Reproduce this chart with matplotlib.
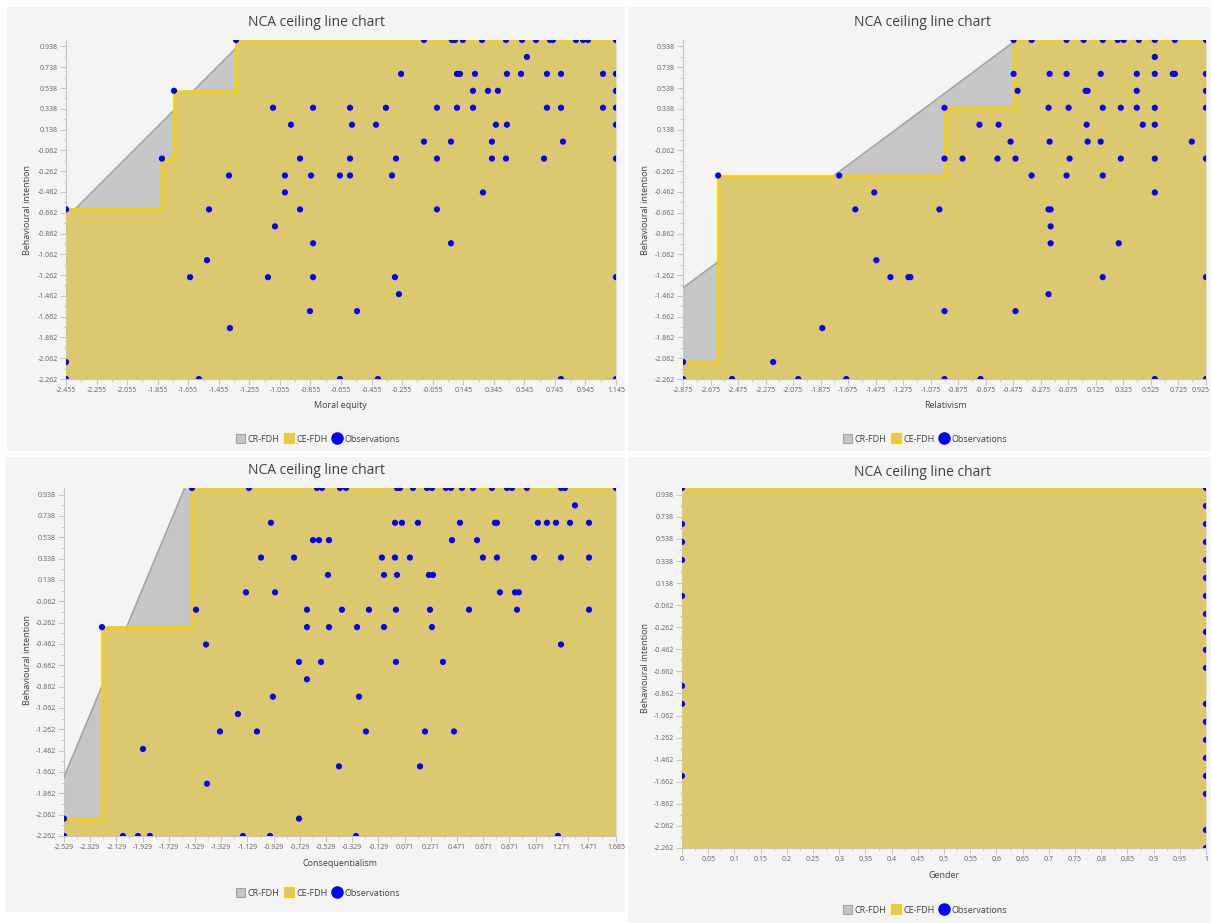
import numpy as np
import matplotlib
matplotlib.use("Agg")
import matplotlib.pyplot as plt
import matplotlib.transforms as mtransforms
from matplotlib.patches import Patch, Rectangle
from matplotlib.lines import Line2D

plt.rcParams['font.family'] = ['Open Sans', 'DejaVu Sans']

# ---------------- data ----------------
TITLE = "NCA ceiling line chart"
Y_LABEL = "Behavioural intention"
Y_RANGE = (-2.262, 1.0)
Y_TICKS = [-2.262, -2.062, -1.862, -1.662, -1.462, -1.262, -1.062, -0.862, -0.662,
           -0.462, -0.262, -0.062, 0.138, 0.338, 0.538, 0.738, 0.938]

# Moral equity vs Behavioural intention (x, y)
obs_moral = [
    (-1.342, 1.0), (-0.112, 1.0), (0.071, 1.0), (0.091, 1.0), (0.143, 1.0), (0.268, 1.0),
    (0.425, 1.0), (0.530, 1.0), (0.621, 1.0), (0.713, 1.0), (0.732, 1.0), (0.883, 1.0),
    (0.929, 1.0), (0.961, 1.0), (1.145, 1.0),
    (0.562, 0.837),
    (-0.262, 0.674), (0.104, 0.674), (0.124, 0.674), (0.222, 0.674), (0.431, 0.674),
    (0.523, 0.674), (0.693, 0.674), (0.785, 0.674), (1.060, 0.674), (1.145, 0.674),
    (-1.748, 0.511), (0.209, 0.511), (0.307, 0.511), (0.372, 0.511), (1.145, 0.511),
    (-1.100, 0.348), (-0.838, 0.348), (-0.596, 0.348), (-0.361, 0.348), (-0.027, 0.348),
    (0.104, 0.348), (0.209, 0.348), (0.693, 0.348), (0.785, 0.348), (1.060, 0.348), (1.145, 0.348),
    (-0.982, 0.185), (-0.583, 0.185), (-0.426, 0.185), (0.359, 0.185), (0.431, 0.185), (1.145, 0.185),
    (-0.112, 0.022), (0.065, 0.022), (0.333, 0.022), (0.798, 0.022),
    (-1.827, -0.141), (-0.923, -0.141), (-0.596, -0.141), (-0.295, -0.141), (-0.027, -0.141),
    (0.333, -0.141), (0.425, -0.141), (0.674, -0.141), (1.145, -0.141),
    (-1.388, -0.304), (-1.022, -0.304), (-0.851, -0.304), (-0.662, -0.304), (-0.596, -0.304), (-0.321, -0.304),
    (-1.022, -0.467), (0.274, -0.467),
    (-2.455, -0.630), (-1.519, -0.630), (-0.923, -0.630), (-0.027, -0.630),
    (-1.087, -0.793),
    (-0.838, -0.956), (0.065, -0.956),
    (-1.532, -1.119),
    (-1.643, -1.282), (-1.133, -1.282), (-0.838, -1.282), (-0.302, -1.282), (1.145, -1.282),
    (-0.276, -1.446),
    (-0.858, -1.609), (-0.550, -1.609),
    (-1.382, -1.772),
    (-2.455, -2.099),
    (-2.455, -2.262), (-1.585, -2.262), (-0.662, -2.262), (-0.413, -2.262), (0.785, -2.262), (1.145, -2.262),
]
moral_ticks = [-2.455, -2.255, -2.055, -1.855, -1.655, -1.455, -1.255, -1.055, -0.855, -0.655,
               -0.455, -0.255, -0.055, 0.145, 0.345, 0.545, 0.745, 0.945, 1.145]

# Relativism vs Behavioural intention
obs_relativism = [
    (-0.473, 1.0), (-0.342, 1.0), (-0.088, 1.0), (0.036, 1.0), (0.175, 1.0), (0.284, 1.0),
    (0.327, 1.0), (0.437, 1.0), (0.553, 1.0), (0.699, 1.0), (0.925, 1.0),
    (0.553, 0.837),
    (-0.473, 0.674), (-0.211, 0.674), (-0.088, 0.674), (0.160, 0.674), (0.422, 0.674),
    (0.553, 0.674), (0.684, 0.674), (0.699, 0.674), (0.925, 0.674),
    (-0.444, 0.511), (0.051, 0.511), (0.065, 0.511), (0.422, 0.511), (0.925, 0.511),
    (-0.975, 0.348), (-0.219, 0.348), (-0.073, 0.348), (0.175, 0.348), (0.306, 0.348),
    (0.422, 0.348), (0.553, 0.348), (0.925, 0.348),
    (-0.721, 0.185), (-0.582, 0.185), (0.058, 0.185), (0.466, 0.185), (0.553, 0.185),
    (-0.495, 0.022), (-0.211, 0.022), (0.065, 0.022), (0.160, 0.022), (0.822, 0.022),
    (-0.975, -0.141), (-0.844, -0.141), (-0.590, -0.141), (-0.459, -0.141), (-0.066, -0.141),
    (0.306, -0.141), (0.553, -0.141), (0.925, -0.141),
    (-2.620, -0.304), (-1.740, -0.304), (-0.342, -0.304), (-0.088, -0.304), (0.175, -0.304),
    (-1.485, -0.467), (0.553, -0.467),
    (-1.623, -0.630), (-1.012, -0.630), (-0.219, -0.630), (-0.204, -0.630),
    (-0.204, -0.793),
    (-0.204, -0.956), (0.291, -0.956),
    (-1.470, -1.119),
    (-1.368, -1.282), (-1.237, -1.282), (-1.223, -1.282), (0.175, -1.282), (0.925, -1.282),
    (-0.219, -1.446),
    (-0.975, -1.609), (-0.459, -1.609),
    (-1.863, -1.772),
    (-2.875, -2.099), (-2.220, -2.099),
    (-2.875, -2.262), (-2.518, -2.262), (-2.038, -2.262), (-1.689, -2.262), (-0.975, -2.262),
    (-0.713, -2.262), (0.553, -2.262), (0.925, -2.262),
]
relativism_ticks = [-2.875, -2.675, -2.475, -2.275, -2.075, -1.875, -1.675, -1.475, -1.275, -1.075,
                    -0.875, -0.675, -0.475, -0.275, -0.075, 0.125, 0.325, 0.525, 0.725, 0.925]

# Consequentialism vs Behavioural intention
obs_conseq = [
    (-1.552, 1.0), (-1.117, 1.0), (-0.598, 1.0), (-0.560, 1.0), (-0.422, 1.0), (-0.376, 1.0),
    (0.013, 1.0), (0.036, 1.0), (0.135, 1.0), (0.242, 1.0), (0.280, 1.0), (0.387, 1.0),
    (0.425, 1.0), (0.509, 1.0), (0.593, 1.0), (0.738, 1.0), (0.853, 1.0), (0.891, 1.0),
    (1.005, 1.0), (1.265, 1.0), (1.295, 1.0), (1.685, 1.0),
    (1.372, 0.837),
    (-0.949, 0.674), (-0.002, 0.674), (0.051, 0.674), (0.173, 0.674), (0.494, 0.674),
    (0.761, 0.674), (0.776, 0.674), (1.089, 0.674), (1.158, 0.674), (1.227, 0.674),
    (1.334, 0.674), (1.479, 0.674),
    (-0.628, 0.511), (-0.582, 0.511), (-0.506, 0.511), (0.433, 0.511), (0.624, 0.511),
    (-1.025, 0.348), (-0.773, 0.348), (-0.102, 0.348), (-0.002, 0.348), (0.112, 0.348),
    (0.669, 0.348), (0.776, 0.348), (1.059, 0.348), (1.265, 0.348), (1.479, 0.348),
    (-0.514, 0.185), (-0.086, 0.185), (0.013, 0.185), (0.257, 0.185), (0.288, 0.185),
    (-1.140, 0.022), (-0.918, 0.022), (0.799, 0.022), (0.914, 0.022), (0.944, 0.022),
    (-1.521, -0.141), (-0.674, -0.141), (-0.407, -0.141), (-0.201, -0.141), (0.005, -0.141),
    (0.265, -0.141), (0.563, -0.141), (0.929, -0.141), (1.479, -0.141),
    (-2.239, -0.304), (-0.674, -0.304), (-0.506, -0.304), (-0.292, -0.304), (-0.086, -0.304), (0.280, -0.304),
    (-1.445, -0.467), (1.265, -0.467),
    (-0.735, -0.630), (-0.567, -0.630), (0.005, -0.630), (0.364, -0.630),
    (-0.674, -0.793),
    (-0.934, -0.956), (-0.277, -0.956),
    (-1.201, -1.119),
    (-1.338, -1.282), (-1.056, -1.282), (-0.224, -1.282), (0.227, -1.282), (0.448, -1.282),
    (-1.926, -1.446),
    (-0.430, -1.609), (0.189, -1.609),
    (-1.437, -1.772),
    (-2.529, -2.099), (-0.735, -2.099),
    (-2.529, -2.262), (-2.079, -2.262), (-1.964, -2.262), (-1.873, -2.262), (-1.163, -2.262),
    (-0.956, -2.262), (-0.300, -2.262), (1.242, -2.262),
]
conseq_ticks = [-2.529, -2.329, -2.129, -1.929, -1.729, -1.529, -1.329, -1.129, -0.929, -0.729,
                -0.529, -0.329, -0.129, 0.071, 0.271, 0.471, 0.671, 0.871, 1.071, 1.271, 1.471, 1.685]

# Gender vs Behavioural intention
obs_gender = [
    (0, 1.0), (0, 0.674), (0, 0.511), (0, 0.348), (0, 0.022), (0, -0.793), (0, -0.956), (0, -1.609),
    (1, 1.0), (1, 0.837), (1, 0.674), (1, 0.511), (1, 0.348), (1, 0.185), (1, 0.022), (1, -0.141),
    (1, -0.304), (1, -0.467), (1, -0.630), (1, -0.956), (1, -1.119), (1, -1.282), (1, -1.446),
    (1, -1.609), (1, -1.772), (1, -2.099), (1, -2.262),
]
gender_ticks = [0, 0.05, 0.1, 0.15, 0.2, 0.25, 0.3, 0.35, 0.4, 0.45, 0.5, 0.55, 0.6, 0.65,
                0.7, 0.75, 0.8, 0.85, 0.9, 0.95, 1]

LEGEND_LABELS = ["CR-FDH", "CE-FDH", "Observations"]

# ---------------- style ----------------
W, H = 1211, 923
PANEL_BG = '#f4f4f4'
CE_FILL = '#dcc86e'
CE_LINE = '#f5cf0f'
CR_FILL = '#c6c6c6'
CR_LINE = '#a2a2a2'
DOT = '#0000ff'
TXT = '#404040'
TICK_TXT = '#606060'
AX_COL = '#c4c4c4'

fig = plt.figure(figsize=(W / 100, H / 100), dpi=100)
fig.patch.set_facecolor('white')


def fx(px):
    return px / W


def fy(py):
    return 1 - py / H


def bg(x0, y0, x1, y1):
    fig.add_artist(Rectangle((fx(x0), fy(y1)), (x1 - x0) / W, (y1 - y0) / H,
                             transform=fig.transFigure, facecolor=PANEL_BG,
                             edgecolor='none', zorder=0))


bg(7, 7, 625, 451)
bg(628, 7, 1211, 451)
bg(5, 457, 625, 912)
bg(628, 457, 1211, 923)


def ceiling_peers(pts):
    order = sorted(pts, key=lambda p: (p[0], -p[1]))
    peers, best = [], -np.inf
    for px, py in order:
        if py > best:
            peers.append((px, py))
            best = py
    return peers


def panel(box, pts, xticks, xlabel, title_xy, xlabel_xy, ylabel_xy, legend_xy, tick_fmt,
          right_align_last=False):
    x0, y0, x1, y1 = box
    ax = fig.add_axes([fx(x0), fy(y1), (x1 - x0) / W, (y1 - y0) / H])
    ax.set_facecolor('none')
    xmin, xmax = xticks[0], xticks[-1]
    ymin, ymax = Y_RANGE
    ax.set_xlim(xmin, xmax)
    ax.set_ylim(ymin, ymax)

    xs = np.array([p[0] for p in pts], dtype=float)
    ys = np.array([p[1] for p in pts], dtype=float)
    peers = ceiling_peers(pts)
    px_ = np.array([p[0] for p in peers], dtype=float)
    py_ = np.array([p[1] for p in peers], dtype=float)

    # CR-FDH (OLS through the CE-FDH peers)
    if len(peers) > 1:
        b, a = np.polyfit(px_, py_, 1)
    else:
        b, a = 0.0, py_[0]
    gx = np.linspace(xmin, xmax, 800)
    gl = a + b * gx
    ax.fill_between(gx, ymin, np.clip(gl, ymin, ymax), color=CR_FILL, lw=0, zorder=1)
    ax.plot(gx, gl, color=CR_LINE, lw=1.2, zorder=1.5)

    # CE-FDH step
    sx, sy = [px_[0]], [py_[0]]
    for i in range(1, len(px_)):
        sx += [px_[i], px_[i]]
        sy += [py_[i - 1], py_[i]]
    sx.append(xmax)
    sy.append(py_[-1])
    ax.fill([sx[0]] + sx + [xmax], [ymin] + sy + [ymin], color=CE_FILL, lw=0, zorder=2)
    ax.plot(sx, sy, color=CE_LINE, lw=2.0, zorder=3, solid_joinstyle='miter')

    ax.scatter(xs, ys, s=20, color=DOT, edgecolors='none', zorder=4)

    # axes styling
    for s in ['top', 'right']:
        ax.spines[s].set_visible(False)
    for s in ['left', 'bottom']:
        ax.spines[s].set_color(AX_COL)
        ax.spines[s].set_linewidth(0.8)
        ax.spines[s].set_zorder(0.5)
    ax.set_xticks(xticks)
    ax.set_xticklabels([tick_fmt(v) for v in xticks])
    ax.set_yticks(Y_TICKS)
    ax.set_yticklabels(['%.3f' % v for v in Y_TICKS])
    xminor = [(xticks[i] + xticks[i + 1]) / 2 for i in range(len(xticks) - 1)]
    yminor = [(Y_TICKS[i] + Y_TICKS[i + 1]) / 2 for i in range(len(Y_TICKS) - 1)]
    ax.set_xticks(xminor, minor=True)
    ax.set_yticks(yminor, minor=True)
    ax.tick_params(which='major', length=4, width=0.7, color=AX_COL, labelsize=5,
                   labelcolor=TICK_TXT, pad=2)
    ax.tick_params(which='minor', length=2.5, width=0.6, color=AX_COL)
    if right_align_last:
        lab = ax.get_xticklabels()[-1]
        lab.set_horizontalalignment('right')
        lab.set_transform(lab.get_transform() +
                          mtransforms.ScaledTranslation(4 / 100, 0, fig.dpi_scale_trans))

    fig.text(fx(title_xy[0]), fy(title_xy[1]), TITLE, ha='center', va='center',
             fontsize=10, color=TXT)
    fig.text(fx(xlabel_xy[0]), fy(xlabel_xy[1]), xlabel, ha='center', va='center',
             fontsize=6.5, color=TXT)
    fig.text(fx(ylabel_xy[0]), fy(ylabel_xy[1]), Y_LABEL, ha='center', va='center',
             fontsize=6.5, color=TXT, rotation=90)

    handles = [Patch(facecolor=CR_FILL, edgecolor=CR_LINE, linewidth=0.8),
               Patch(facecolor=CE_FILL, edgecolor=CE_LINE, linewidth=1.5),
               Line2D([], [], marker='o', linestyle='none', markerfacecolor=DOT,
                      markeredgecolor=DOT, markersize=8)]
    fig.legend(handles, LEGEND_LABELS, loc='center',
               bbox_to_anchor=(fx(legend_xy[0]), fy(legend_xy[1])), ncol=3, frameon=False,
               fontsize=6.5, handlelength=1.0, handleheight=1.0, handletextpad=0.3,
               columnspacing=0.6, labelcolor=TXT)
    return ax


three = lambda v: '%.3f' % v
gfmt = lambda v: '%g' % v

panel((66, 40, 616, 379), obs_moral, moral_ticks, "Moral equity",
      (317, 23), (340, 406), (28, 210), (318, 439), three)
panel((683, 40, 1206, 379), obs_relativism, relativism_ticks, "Relativism",
      (922, 23), (945, 406), (646, 210), (925, 439), three, right_align_last=True)
panel((64, 488, 616, 836), obs_conseq, conseq_ticks, "Consequentialism",
      (317, 471), (340, 864), (28, 660), (318, 893), three)
panel((682, 488, 1206, 848), obs_gender, gender_ticks, "Gender",
      (922, 472), (944, 876), (646, 668), (925, 910), gfmt)

fig.savefig('out.png', dpi=100, facecolor='white')
